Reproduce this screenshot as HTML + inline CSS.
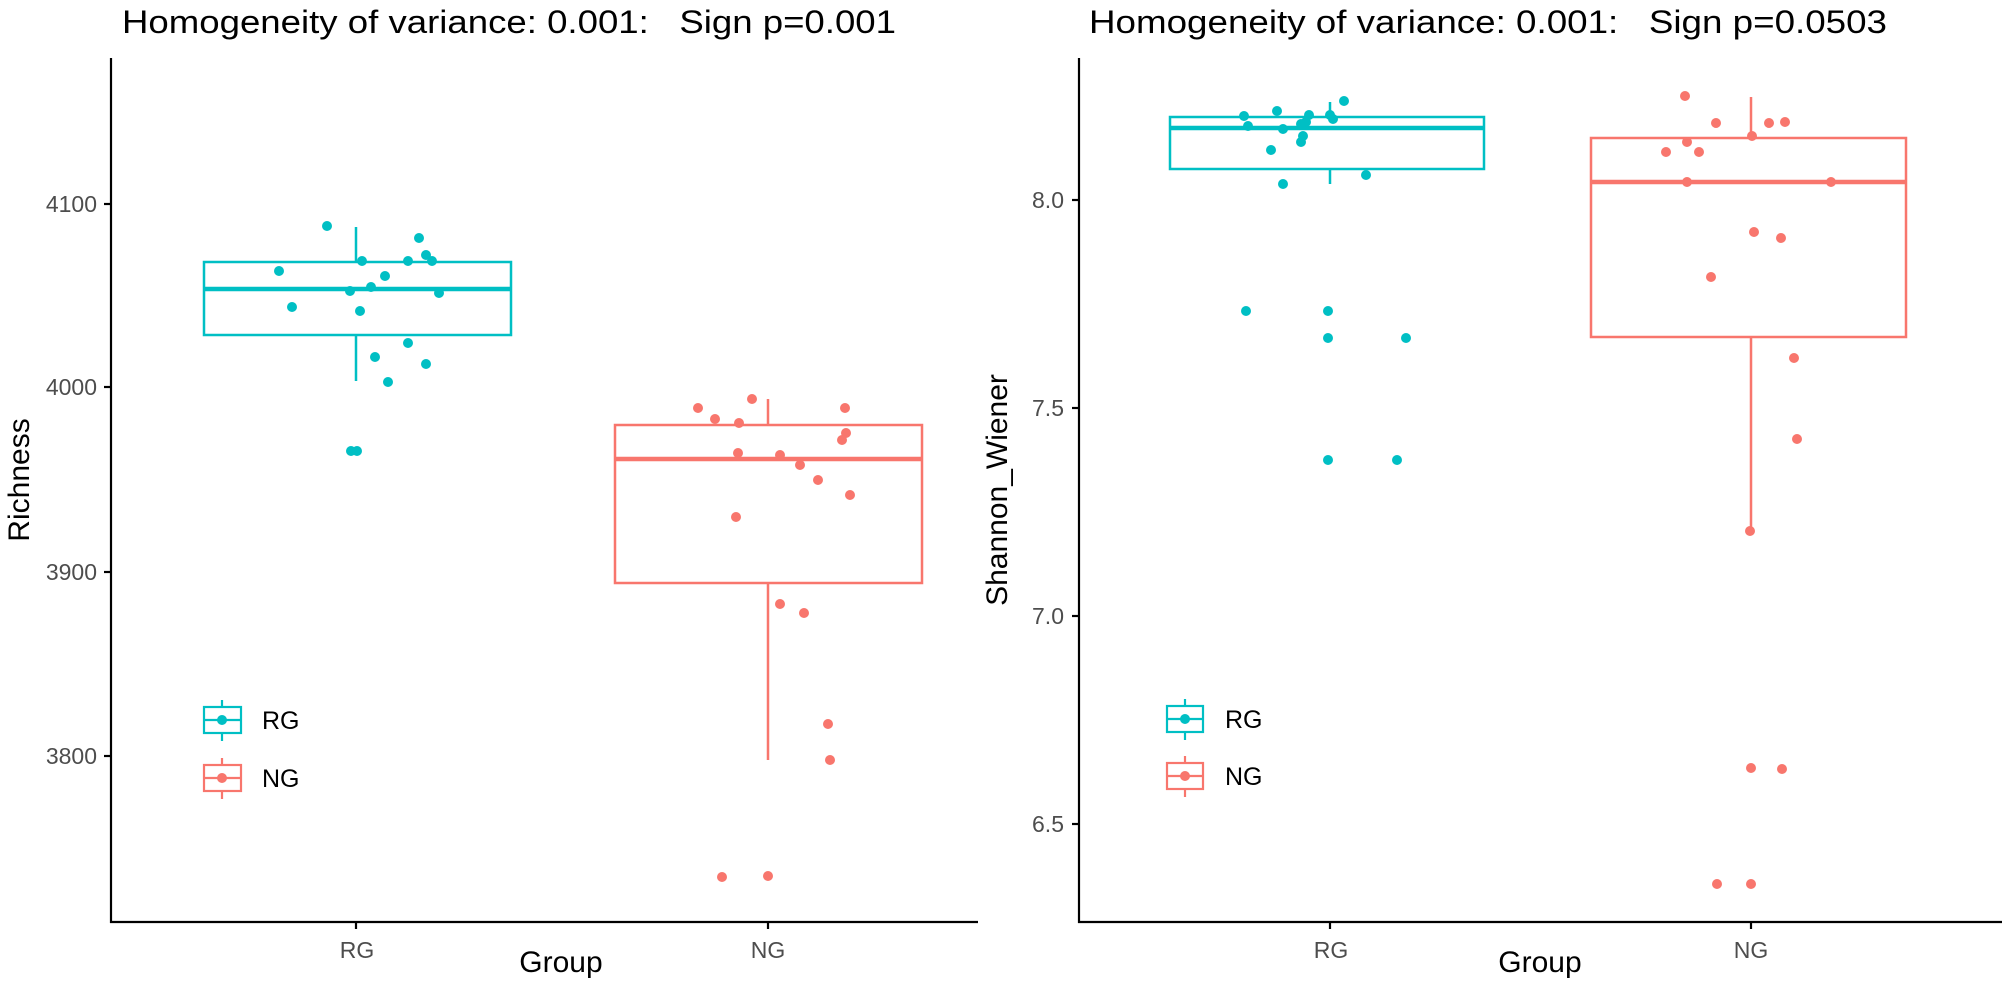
<!DOCTYPE html>
<html><head><meta charset="utf-8"><style>
html,body{margin:0;padding:0;background:#fff;}
svg{display:block;font-family:"Liberation Sans",Arial,sans-serif;}
text{white-space:pre;}
</style></head><body>
<svg width="2007" height="981" viewBox="0 0 2007 981" xmlns="http://www.w3.org/2000/svg" xml:space="preserve">
<rect width="2007" height="981" fill="#fff"/>
<text x="122" y="33" font-size="32" fill="#000" textLength="774" lengthAdjust="spacingAndGlyphs">Homogeneity of variance: 0.001:   Sign p=0.001</text>
<g stroke="#000" stroke-width="2.2" fill="none">
<line x1="111" y1="58" x2="111" y2="923"/>
<line x1="110" y1="922" x2="978" y2="922"/>
<line x1="104" y1="204" x2="111" y2="204"/><line x1="104" y1="387" x2="111" y2="387"/>
<line x1="104" y1="572" x2="111" y2="572"/><line x1="104" y1="756" x2="111" y2="756"/>
<line x1="356" y1="922" x2="356" y2="929"/><line x1="768" y1="922" x2="768" y2="929"/>
</g>
<g font-size="23" fill="#4d4d4d" text-anchor="end">
<text x="97" y="212">4100</text><text x="97" y="395">4000</text><text x="97" y="580">3900</text><text x="97" y="764">3800</text>
</g>
<g font-size="23" fill="#4d4d4d" text-anchor="middle">
<text x="357" y="958">RG</text><text x="768" y="958">NG</text>
</g>
<text x="561" y="972" font-size="30" text-anchor="middle" fill="#000">Group</text>
<text transform="translate(29,480) rotate(-90)" font-size="30" text-anchor="middle" fill="#000">Richness</text>
<g stroke="#00BFC4" stroke-width="2.5" fill="none">
<line x1="356" y1="227" x2="356" y2="262"/><line x1="356" y1="335" x2="356" y2="381"/>
<rect x="204" y="262" width="307" height="73"/>
<line x1="204" y1="289" x2="511" y2="289" stroke-width="4.5"/>
</g>
<g fill="#00BFC4">
<circle cx="327" cy="226" r="5"/><circle cx="279" cy="271" r="5"/><circle cx="292" cy="307" r="5"/><circle cx="350" cy="291" r="5"/><circle cx="362" cy="261" r="5"/><circle cx="371" cy="287" r="5"/><circle cx="360" cy="311" r="5"/><circle cx="385" cy="276" r="5"/><circle cx="408" cy="261" r="5"/><circle cx="419" cy="238" r="5"/><circle cx="426" cy="255" r="5"/><circle cx="432" cy="261" r="5"/><circle cx="439" cy="293" r="5"/><circle cx="375" cy="357" r="5"/><circle cx="408" cy="343" r="5"/><circle cx="426" cy="364" r="5"/><circle cx="388" cy="382" r="5"/><circle cx="351" cy="451" r="5"/><circle cx="357" cy="451" r="5"/>
</g>
<g stroke="#F8766D" stroke-width="2.5" fill="none">
<line x1="768" y1="399" x2="768" y2="425"/><line x1="768" y1="583" x2="768" y2="760"/>
<rect x="615" y="425" width="307" height="158"/>
<line x1="615" y1="459" x2="922" y2="459" stroke-width="4.5"/>
</g>
<g fill="#F8766D">
<circle cx="698" cy="408" r="5"/><circle cx="715" cy="419" r="5"/><circle cx="752" cy="399" r="5"/><circle cx="739" cy="423" r="5"/><circle cx="845" cy="408" r="5"/><circle cx="846" cy="433" r="5"/><circle cx="842" cy="440" r="5"/><circle cx="738" cy="453" r="5"/><circle cx="780" cy="455" r="5"/><circle cx="800" cy="465" r="5"/><circle cx="818" cy="480" r="5"/><circle cx="850" cy="495" r="5"/><circle cx="736" cy="517" r="5"/><circle cx="780" cy="604" r="5"/><circle cx="804" cy="613" r="5"/><circle cx="828" cy="724" r="5"/><circle cx="830" cy="760" r="5"/><circle cx="722" cy="877" r="5"/><circle cx="768" cy="876" r="5"/>
</g>
<g stroke="#00BFC4" stroke-width="2.2" fill="none">
<line x1="222" y1="700" x2="222" y2="741"/><rect x="204" y="707" width="37" height="26" fill="#fff"/><line x1="204" y1="720" x2="241" y2="720"/>
</g><circle cx="222" cy="720" r="5" fill="#00BFC4"/>
<g stroke="#F8766D" stroke-width="2.2" fill="none">
<line x1="222" y1="758" x2="222" y2="799"/><rect x="204" y="765" width="37" height="26" fill="#fff"/><line x1="204" y1="778" x2="241" y2="778"/>
</g><circle cx="222" cy="778" r="5" fill="#F8766D"/>
<text x="262" y="729" font-size="25" fill="#000">RG</text>
<text x="262" y="787" font-size="25" fill="#000">NG</text>

<text x="1089" y="33" font-size="32" fill="#000" textLength="798" lengthAdjust="spacingAndGlyphs">Homogeneity of variance: 0.001:   Sign p=0.0503</text>
<g stroke="#000" stroke-width="2.2" fill="none">
<line x1="1079" y1="58" x2="1079" y2="923"/>
<line x1="1078" y1="922" x2="2002" y2="922"/>
<line x1="1072" y1="200" x2="1079" y2="200"/><line x1="1072" y1="408" x2="1079" y2="408"/>
<line x1="1072" y1="616" x2="1079" y2="616"/><line x1="1072" y1="824" x2="1079" y2="824"/>
<line x1="1330" y1="922" x2="1330" y2="929"/><line x1="1751" y1="922" x2="1751" y2="929"/>
</g>
<g font-size="23" fill="#4d4d4d" text-anchor="end">
<text x="1064" y="208">8.0</text><text x="1064" y="416">7.5</text><text x="1064" y="624">7.0</text><text x="1064" y="832">6.5</text>
</g>
<g font-size="23" fill="#4d4d4d" text-anchor="middle">
<text x="1331" y="958">RG</text><text x="1751" y="958">NG</text>
</g>
<text x="1540" y="972" font-size="30" text-anchor="middle" fill="#000">Group</text>
<text transform="translate(1007,490) rotate(-90)" font-size="30" text-anchor="middle" fill="#000">Shannon_Wiener</text>
<g stroke="#00BFC4" stroke-width="2.5" fill="none">
<line x1="1330" y1="102" x2="1330" y2="117"/><line x1="1330" y1="169" x2="1330" y2="184"/>
<rect x="1170" y="117" width="314" height="52"/>
<line x1="1170" y1="128" x2="1484" y2="128" stroke-width="4.5"/>
</g>
<g fill="#00BFC4">
<circle cx="1244" cy="116" r="5"/><circle cx="1248" cy="126" r="5"/><circle cx="1277" cy="111" r="5"/><circle cx="1283" cy="129" r="5"/><circle cx="1271" cy="150" r="5"/><circle cx="1301" cy="124" r="5"/><circle cx="1306" cy="122" r="5"/><circle cx="1309" cy="115" r="5"/><circle cx="1303" cy="136" r="5"/><circle cx="1301" cy="142" r="5"/><circle cx="1330" cy="115" r="5"/><circle cx="1333" cy="119" r="5"/><circle cx="1344" cy="101" r="5"/><circle cx="1366" cy="175" r="5"/><circle cx="1283" cy="184" r="5"/><circle cx="1246" cy="311" r="5"/><circle cx="1328" cy="311" r="5"/><circle cx="1328" cy="338" r="5"/><circle cx="1406" cy="338" r="5"/><circle cx="1328" cy="460" r="5"/><circle cx="1397" cy="460" r="5"/>
</g>
<g stroke="#F8766D" stroke-width="2.5" fill="none">
<line x1="1751" y1="97" x2="1751" y2="138"/><line x1="1751" y1="337" x2="1751" y2="531"/>
<rect x="1591" y="138" width="315" height="199"/>
<line x1="1591" y1="182" x2="1906" y2="182" stroke-width="4.5"/>
</g>
<g fill="#F8766D">
<circle cx="1685" cy="96" r="5"/><circle cx="1716" cy="123" r="5"/><circle cx="1769" cy="123" r="5"/><circle cx="1785" cy="122" r="5"/><circle cx="1752" cy="136" r="5"/><circle cx="1666" cy="152" r="5"/><circle cx="1687" cy="142" r="5"/><circle cx="1699" cy="152" r="5"/><circle cx="1687" cy="182" r="5"/><circle cx="1831" cy="182" r="5"/><circle cx="1754" cy="232" r="5"/><circle cx="1781" cy="238" r="5"/><circle cx="1711" cy="277" r="5"/><circle cx="1794" cy="358" r="5"/><circle cx="1797" cy="439" r="5"/><circle cx="1750" cy="531" r="5"/><circle cx="1751" cy="768" r="5"/><circle cx="1782" cy="769" r="5"/><circle cx="1717" cy="884" r="5"/><circle cx="1751" cy="884" r="5"/>
</g>
<g stroke="#00BFC4" stroke-width="2.2" fill="none">
<line x1="1185" y1="699" x2="1185" y2="740"/><rect x="1167" y="706" width="36" height="26" fill="#fff"/><line x1="1167" y1="719" x2="1203" y2="719"/>
</g><circle cx="1185" cy="719" r="5" fill="#00BFC4"/>
<g stroke="#F8766D" stroke-width="2.2" fill="none">
<line x1="1185" y1="756" x2="1185" y2="797"/><rect x="1167" y="763" width="36" height="26" fill="#fff"/><line x1="1167" y1="776" x2="1203" y2="776"/>
</g><circle cx="1185" cy="776" r="5" fill="#F8766D"/>
<text x="1225" y="728" font-size="25" fill="#000">RG</text>
<text x="1225" y="785" font-size="25" fill="#000">NG</text>
</svg>
</body></html>
